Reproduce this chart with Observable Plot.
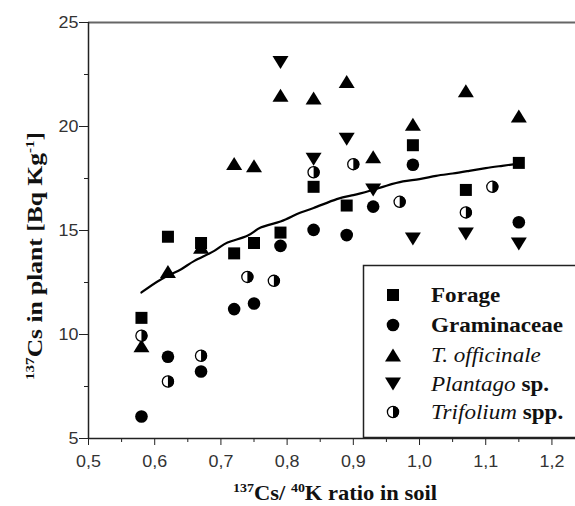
<!DOCTYPE html>
<html>
<head>
<meta charset="utf-8">
<script src="https://cdn.jsdelivr.net/npm/d3@7"></script>
<script src="https://cdn.jsdelivr.net/npm/@observablehq/plot@0.6"></script>
<style>
  html, body { margin: 0; padding: 0; background: #fff; }
  #chart { width: 575px; height: 506px; }
</style>
</head>
<body>
<div id="chart"></div>
<script>
// ---- data ----
const seriesNames = ["Forage", "Graminaceae", "T. officinale", "Plantago sp.", "Trifolium spp."];

const forageX = [0.58, 0.62, 0.67, 0.72, 0.75, 0.79, 0.84, 0.89, 0.99, 1.07, 1.15];
const forageY = [10.8, 14.7, 14.4, 13.9, 14.4, 14.9, 17.1, 16.2, 19.1, 16.95, 18.25];

const graminX = [0.58, 0.62, 0.67, 0.72, 0.75, 0.79, 0.84, 0.89, 0.93, 0.99, 1.15];
const graminY = [6.06, 8.93, 8.22, 11.22, 11.49, 14.26, 15.03, 14.78, 16.15, 18.16, 15.4];

const toffX = [0.58, 0.62, 0.67, 0.72, 0.75, 0.79, 0.84, 0.89, 0.93, 0.99, 1.07, 1.15];
const toffY = [9.46, 13.03, 14.2, 18.22, 18.11, 21.5, 21.37, 22.16, 18.54, 20.11, 21.72, 20.51];

const plantX = [0.79, 0.84, 0.89, 0.93, 0.99, 1.07, 1.15];
const plantY = [23.08, 18.43, 19.39, 16.95, 14.59, 14.83, 14.35];

const trifX = [0.58, 0.62, 0.67, 0.74, 0.78, 0.84, 0.90, 0.97, 1.07, 1.11];
const trifY = [9.94, 7.74, 8.98, 12.77, 12.58, 17.8, 18.19, 16.38, 15.87, 17.1];

// fitted curve
const fitX = [0.58, 0.61, 0.64, 0.66, 0.69, 0.71, 0.74, 0.76, 0.79, 0.815, 0.84, 0.875, 0.90, 0.925, 0.95, 0.975, 1.00, 1.025, 1.05, 1.075, 1.10, 1.125, 1.15];
const fitY = [12.02, 12.66, 13.14, 13.54, 14.02, 14.42, 14.75, 15.14, 15.43, 15.79, 16.08, 16.51, 16.70, 16.91, 17.15, 17.36, 17.47, 17.63, 17.74, 17.87, 18.0, 18.11, 18.22];

const xMajor = [0.5, 0.6, 0.7, 0.8, 0.9, 1.0, 1.1, 1.2];
const xMinor = [0.55, 0.65, 0.75, 0.85, 0.95, 1.05, 1.15];
const yMajor = [5, 10, 15, 20, 25];
const yMinor = [7.5, 12.5, 17.5, 22.5];

// ---- helpers ----
const pts = (xs, ys) => xs.map((x, i) => ({x, y: ys[i]}));
const forage = pts(forageX, forageY);
const gramin = pts(graminX, graminY);
const toff = pts(toffX, toffY);
const plant = pts(plantX, plantY);
const trif = pts(trifX, trifY);
const fit = pts(fitX, fitY);

// custom symbols
const symSquare = {draw(c) { c.rect(-6, -6, 12, 12); }};
const symCircle = {draw(c) { c.moveTo(6.3, 0); c.arc(0, 0, 6.3, 0, 2 * Math.PI); }};
const symUp = {draw(c) { c.moveTo(0, -6.5); c.lineTo(8, 6.5); c.lineTo(-8, 6.5); c.closePath(); }};
const symDown = {draw(c) { c.moveTo(0, 6.5); c.lineTo(8, -6.5); c.lineTo(-8, -6.5); c.closePath(); }};
const symRing = {draw(c) { c.moveTo(5.6, 0); c.arc(0, 0, 5.6, 0, 2 * Math.PI); }};
const symHalf = {draw(c) { c.moveTo(0, -6); c.arc(0, 0, 6, -Math.PI / 2, Math.PI / 2); c.closePath(); }};

const fmt = d => d.toFixed(1).replace(".", ",");

const svg = Plot.plot({
  width: 575,
  height: 506,
  marginLeft: 88,
  marginRight: 0,
  marginTop: 22,
  marginBottom: 68,
  x: {domain: [0.5, 1.2356]},
  y: {domain: [5, 25]},
  style: {fontFamily: "'Liberation Sans', Arial, sans-serif", fontSize: "16px", color: "#222", background: "white"},
  marks: [
    Plot.ruleY([25], {stroke: "#666", strokeWidth: 2}),
    Plot.axisX(xMinor, {tickSize: 4, tickFormat: () => "", label: null, stroke: "#222"}),
    Plot.axisX(xMajor, {tickSize: 7, tickPadding: 10, tickFormat: fmt, label: null, stroke: "#222", fill: "#333"}),
    Plot.axisY(yMinor, {tickSize: 4, tickFormat: () => "", label: null, stroke: "#222"}),
    Plot.axisY(yMajor, {tickSize: 9, tickPadding: 1, label: null, stroke: "#222", fill: "#333"}),
    Plot.ruleX([0.5], {stroke: "#222", strokeWidth: 1.5}),
    Plot.ruleY([5], {stroke: "#222", strokeWidth: 1.5}),
    Plot.line(fit, {x: "x", y: "y", curve: "natural", stroke: "black", strokeWidth: 2.2}),
    Plot.dot(gramin, {x: "x", y: "y", symbol: symCircle, fill: "black", stroke: "none"}),
    Plot.dot(forage, {x: "x", y: "y", symbol: symSquare, fill: "black", stroke: "none"}),
    Plot.dot(toff, {x: "x", y: "y", symbol: symUp, fill: "black", stroke: "none"}),
    Plot.dot(plant, {x: "x", y: "y", symbol: symDown, fill: "black", stroke: "none"}),
    Plot.dot(trif, {x: "x", y: "y", symbol: symRing, fill: "white", stroke: "black", strokeWidth: 1.3}),
    Plot.dot(trif, {x: "x", y: "y", symbol: symHalf, fill: "black", stroke: "none"})
  ]
});

document.getElementById("chart").appendChild(svg);

const root = d3.select(svg);
const serif = "'Liberation Serif', 'Times New Roman', serif";

// stretch tick labels slightly (reference glyphs are wide)
function stretch(sel, f) {
  sel.each(function() {
    const L = this.getComputedTextLength();
    if (L > 0) {
      this.setAttribute("textLength", (L * f).toFixed(1));
      this.setAttribute("lengthAdjust", "spacingAndGlyphs");
    }
  });
}
stretch(root.selectAll('g[aria-label="x-axis tick label"] text'), 1.12);
stretch(root.selectAll('g[aria-label="y-axis tick label"] text'), 1.12);

// ---- axis titles ----
function titled(g, parts, size, supSize) {
  const t = g.append("text")
    .attr("text-anchor", "middle")
    .style("font-family", serif)
    .style("font-weight", "bold")
    .style("font-size", size + "px")
    .attr("fill", "#111");
  let shifted = false;
  parts.forEach(p => {
    const ts = t.append("tspan").text(p.t);
    if (p.sup) { ts.style("font-size", supSize + "px").attr("dy", shifted ? 0 : -8); shifted = true; }
    else { if (shifted) ts.attr("dy", 8); shifted = false; }
  });
  return t;
}

const xt = titled(root.append("g").attr("transform", "translate(335,500)"),
  [{t: "137", sup: true}, {t: "Cs/ "}, {t: "40", sup: true}, {t: "K ratio in soil"}], 21, 13);
xt.attr("textLength", 204).attr("lengthAdjust", "spacingAndGlyphs");

const yt = titled(root.append("g").attr("transform", "translate(42,256) rotate(-90)"),
  [{t: "137", sup: true}, {t: "Cs in plant [Bq Kg"}, {t: "-1", sup: true}, {t: "]"}], 22, 13);
yt.attr("textLength", 248).attr("lengthAdjust", "spacingAndGlyphs");

// ---- legend ----
const lg = root.append("g");
lg.append("rect")
  .attr("x", 363.5).attr("y", 265.5).attr("width", 240).attr("height", 172)
  .attr("fill", "white").attr("stroke", "#222").attr("stroke-width", 1.5);

const legendSyms = [[symSquare], [symCircle], [symUp], [symDown], [symRing, symHalf]];
const legendParts = [
  [{t: "Forage", b: true}],
  [{t: "Graminaceae", b: true}],
  [{t: "T. officinale", i: true}],
  [{t: "Plantago", i: true}, {t: " sp.", b: true}],
  [{t: "Trifolium", i: true}, {t: " spp.", b: true}]
];
const rowY = [295, 325, 355, 384, 412];
seriesNames.forEach((name, k) => {
  const gy = rowY[k];
  legendSyms[k].forEach(s => {
    const p = lg.append("path")
      .attr("transform", `translate(393,${gy})`)
      .attr("d", d3.symbol().type(s)());
    if (s === symRing) p.attr("fill", "white").attr("stroke", "black").attr("stroke-width", 1.3);
    else p.attr("fill", "black");
  });
  const t = lg.append("g")
    .attr("transform", `translate(431,${gy + 7}) scale(1.1,1)`)
    .append("text")
    .attr("x", 0).attr("y", 0)
    .attr("text-anchor", "start")
    .style("font-family", serif).style("font-size", "21px")
    .attr("fill", "#111");
  legendParts[k].forEach(p => {
    t.append("tspan").text(p.t)
      .style("font-family", serif)
      .style("font-weight", p.b ? "bold" : "normal")
      .style("font-style", p.i ? "italic" : "normal");
  });
});
</script>
</body>
</html>
